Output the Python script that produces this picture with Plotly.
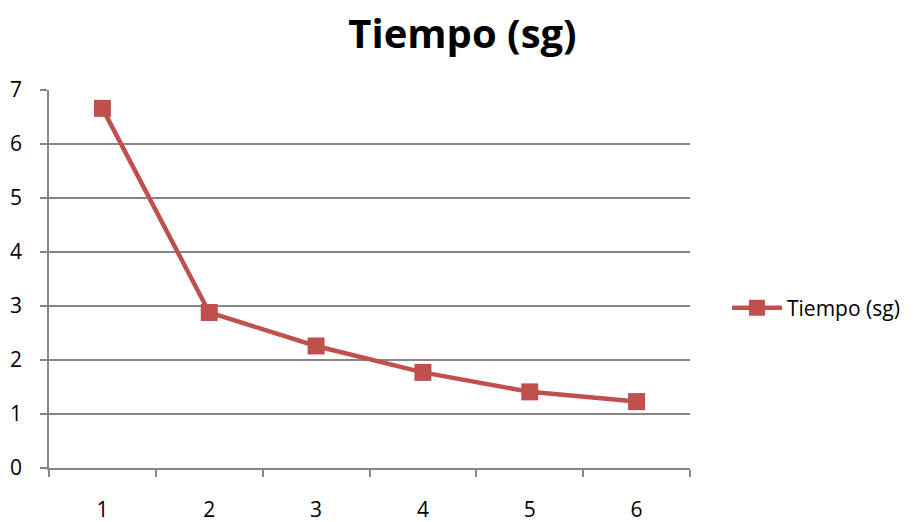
import plotly.graph_objects as go

# Execution time per run
categories = ["1", "2", "3", "4", "5", "6"]
tiempo_sg = [6.66, 2.88, 2.26, 1.77, 1.41, 1.23]
y_ticks = [0, 1, 2, 3, 4, 5, 6, 7]

series_color = "#C0504D"
grid_color = "#868686"
font_family = "Open Sans, Noto Sans, sans-serif"

fig = go.Figure()
fig.add_trace(go.Scatter(
    x=categories,
    y=tiempo_sg,
    mode="lines+markers",
    name="Tiempo (sg)",
    line=dict(color=series_color, width=4.5),
    marker=dict(symbol="square", size=17, color=series_color),
))

fig.update_layout(
    width=916,
    height=522,
    paper_bgcolor="white",
    plot_bgcolor="white",
    margin=dict(l=49, r=226, t=90, b=54, autoexpand=False),
    font=dict(family=font_family, color="#000000", size=20),
    title=dict(
        text="<b>Tiempo (sg)</b>",
        font=dict(size=40, family=font_family, color="#000000"),
        x=(347 + 578) / 2 / 916,
        xanchor="center",
        y=1 - 34 / 522,
        yanchor="middle",
    ),
    showlegend=True,
    legend=dict(
        x=(727 - 49) / 641,
        xanchor="left",
        y=(468 - 308) / 378,
        yanchor="middle",
        font=dict(size=21, family=font_family),
        bgcolor="rgba(0,0,0,0)",
        itemwidth=50,
    ),
)

fig.update_xaxes(
    type="category",
    tickson="boundaries",
    ticks="outside",
    ticklen=7,
    tickcolor=grid_color,
    tickwidth=1.5,
    showline=True,
    linecolor=grid_color,
    linewidth=1.5,
    showgrid=False,
    range=[-0.5, 5.5],
    ticklabelstandoff=22,
    tickfont=dict(size=21),
    automargin=False,
)

fig.update_yaxes(
    range=[0, 7],
    tickvals=y_ticks,
    ticks="outside",
    ticklen=7,
    tickcolor=grid_color,
    tickwidth=1.5,
    showline=True,
    linecolor=grid_color,
    linewidth=1.5,
    showgrid=True,
    gridcolor=grid_color,
    gridwidth=1.5,
    zeroline=False,
    ticklabelstandoff=14,
    tickfont=dict(size=21),
    automargin=False,
)

fig.write_html("out.html")
